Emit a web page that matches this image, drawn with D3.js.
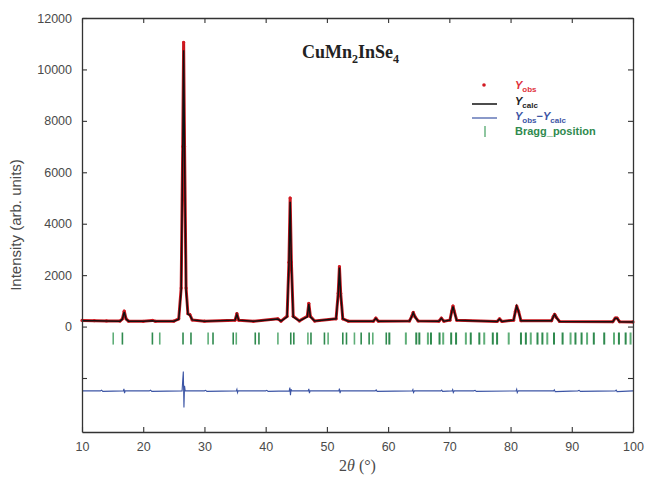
<!DOCTYPE html>
<html>
<head>
<meta charset="utf-8">
<script src="https://cdn.jsdelivr.net/npm/d3@7"></script>
<style>
  body { margin: 0; background: #fff; }
  svg { display: block; }
</style>
</head>
<body>
<div id="chart"></div>
<script>
var tth = [10.0, 12.0, 14.0, 16.2, 16.6, 16.9, 17.2, 17.6, 20.0, 21.5, 22.0, 25.0, 25.8, 26.2, 26.45, 26.6, 26.75, 27.0, 27.3, 27.6, 28.0,
  30.0, 35.0, 35.3, 35.6, 38.0, 42.0, 42.5, 43.5, 43.8, 44.0, 44.2, 44.5, 45.5, 46.8, 47.05, 47.3, 48.0,
  51.5, 51.85, 52.05, 52.25, 52.6, 53.5, 57.6, 58.0, 58.4, 63.5, 63.9, 64.1, 64.4, 64.9, 68.3, 68.7, 69.1,
  70.1, 70.4, 70.6, 70.8, 71.2, 77.8, 78.2, 78.6, 80.5, 80.8, 81.0, 81.3, 81.7, 86.7, 87.0, 87.2, 87.5, 88.0,
  96.7, 97.1, 97.4, 97.8, 100.0];
var yObs = [240, 230, 220, 215, 300, 600, 300, 210, 205, 240, 205, 210, 300, 1500, 7000, 11050, 7000, 1500, 500, 470, 260,
  210, 250, 500, 250, 205, 300, 210, 400, 2500, 5000, 2500, 400, 220, 400, 900, 400, 215,
  300, 1300, 2330, 1300, 300, 210, 210, 330, 210, 220, 420, 550, 380, 220, 210, 330, 210,
  250, 600, 800, 600, 250, 200, 300, 200, 250, 600, 800, 600, 230, 230, 400, 480, 350, 200,
  190, 330, 330, 190, 180];
var yCalc = [230, 225, 215, 210, 290, 570, 290, 210, 205, 230, 205, 210, 290, 1400, 6800, 10750, 6800, 1400, 480, 450, 260,
  210, 250, 470, 250, 205, 290, 210, 380, 2400, 4850, 2400, 380, 220, 380, 880, 380, 215,
  300, 1250, 2300, 1250, 300, 210, 210, 320, 210, 220, 410, 540, 370, 220, 210, 320, 210,
  250, 580, 780, 580, 250, 200, 290, 200, 250, 590, 790, 590, 230, 230, 390, 470, 340, 200,
  190, 320, 320, 190, 180];

// difference curve (offset baseline)
var diffTth = [10, 13, 13.2, 13.4, 16.75, 16.85, 16.95, 17.05, 21, 21.2, 21.4, 26.35, 26.45, 26.55, 26.65, 26.75, 26.85, 30, 30.2, 30.4,
  35.2, 35.3, 35.4, 35.5, 40, 40.2, 40.4, 43.85, 43.95, 44.05, 44.15, 44.25, 46.95, 47.05, 47.15, 47.25, 51.95, 52.05, 52.15, 52.25,
  57.9, 58.05, 58.2, 63.95, 64.05, 64.15, 64.3, 68.6, 68.75, 68.9, 70.45, 70.55, 70.65, 70.8, 74, 74.2, 74.4,
  80.9, 81.0, 81.1, 81.25, 87.05, 87.15, 87.3, 91, 91.2, 91.4, 97.1, 97.25, 97.4, 100];
var diffVal = [-2500, -2500, -2470, -2520, -2500, -2420, -2590, -2500, -2500, -2470, -2520, -2500, -2100, -1750, -3150, -2300, -2500, -2500, -2480, -2520,
  -2500, -2440, -2570, -2500, -2500, -2480, -2520, -2500, -2370, -2670, -2440, -2500, -2500, -2420, -2590, -2500, -2500, -2410, -2590, -2500,
  -2500, -2460, -2520, -2500, -2450, -2560, -2500, -2500, -2470, -2520, -2500, -2450, -2560, -2500, -2500, -2480, -2520,
  -2500, -2440, -2570, -2500, -2500, -2460, -2530, -2500, -2480, -2520, -2500, -2470, -2530, -2500];

// reflection positions
var braggPos = [15.1, 16.6, 21.5, 22.7, 26.5, 27.8, 30.6, 31.4, 34.7, 35.2, 38.3, 38.9, 42.0, 44.1, 44.6, 46.9, 47.4,
  49.6, 50.2, 52.6, 53.2, 54.5, 55.6, 56.9, 57.5, 59.7, 60.2, 62.9, 64.6, 65.1, 66.5, 67.0, 68.4, 69.0, 70.3, 71.1,
  72.7, 73.5, 74.9, 75.7, 77.1, 77.8, 79.7, 81.7, 82.5, 83.3, 84.4, 85.2, 86.0, 87.1, 88.5, 89.8, 90.6, 91.6, 92.5,
  93.6, 95.3, 96.9, 97.7, 98.8, 99.6];

var xTicks = [10, 20, 30, 40, 50, 60, 70, 80, 90, 100];
var yTicks = [-2000, 0, 2000, 4000, 6000, 8000, 10000, 12000];

var W = 649, H = 480;
var mL = 82, mR = 633, mT = 18, mB = 432;

var svg = d3.select("#chart").append("svg").attr("width", W).attr("height", H);

var x = d3.scaleLinear().domain([10, 100]).range([mL, mR]);
var y = d3.scaleLinear().domain([-4100, 12000]).range([mB, mT]);

var axisCol = "#333", labCol = "#4a4a4a";

// Bragg ticks
svg.append("g").selectAll("line").data(braggPos).enter().append("line")
  .attr("x1", d => x(d)).attr("x2", d => x(d))
  .attr("y1", y(-230)).attr("y2", y(-700))
  .attr("stroke", (d, i) => i % 3 == 0 ? "#5fae78" : "#2f8a4e")
  .attr("stroke-width", d => d > 60 ? 2 : 1.6);

// difference
var diffLine = d3.line().x((d, i) => x(diffTth[i])).y(d => y(d));
svg.append("path").datum(diffVal).attr("d", diffLine)
  .attr("fill", "none").attr("stroke", "#3c55a5").attr("stroke-width", 1.1);

// observed
var profLine = d3.line().x((d, i) => x(tth[i])).y(d => y(d));
svg.append("path").datum(yObs).attr("d", profLine)
  .attr("fill", "none").attr("stroke", "#c8161d").attr("stroke-width", 3)
  .attr("stroke-linejoin", "round");
svg.append("g").selectAll("circle").data(yObs).enter().append("circle")
  .attr("cx", (d, i) => x(tth[i])).attr("cy", d => y(d)).attr("r", 1.6)
  .attr("fill", "#d21a22");

// calculated
svg.append("path").datum(yCalc).attr("d", profLine)
  .attr("fill", "none").attr("stroke", "#111").attr("stroke-width", 1.5);

// axes (ticks inward on all four sides)
function styleAxis(g) {
  g.select(".domain").attr("stroke", axisCol).attr("stroke-width", 1.3);
  g.selectAll(".tick line").attr("stroke", axisCol).attr("stroke-width", 1.1);
  g.selectAll(".tick text").attr("fill", labCol).style("font-family", "Liberation Sans, Arial, sans-serif").style("font-size", "12.5px");
}
svg.append("g").attr("transform", "translate(0," + mB + ")")
  .call(d3.axisBottom(x).tickValues(xTicks).tickSize(-5).tickPadding(10).tickSizeOuter(0))
  .call(styleAxis);
svg.append("g").attr("transform", "translate(0," + mT + ")")
  .call(d3.axisTop(x).tickValues(xTicks).tickSize(-5).tickFormat("").tickSizeOuter(0))
  .call(styleAxis);
svg.append("g").attr("transform", "translate(" + mL + ",0)")
  .call(d3.axisLeft(y).tickValues(yTicks).tickSize(-5).tickPadding(10).tickSizeOuter(0)
    .tickFormat(d => d < 0 ? "" : d))
  .call(styleAxis);
svg.append("g").attr("transform", "translate(" + mR + ",0)")
  .call(d3.axisRight(y).tickValues(yTicks).tickSize(-5).tickFormat("").tickSizeOuter(0))
  .call(styleAxis);

// axis titles
svg.append("text").attr("transform", "translate(21," + (mT + mB) / 2 + ") rotate(-90)")
  .attr("text-anchor", "middle").attr("fill", labCol)
  .style("font-family", "Liberation Sans, Arial, sans-serif").style("font-size", "15px")
  .text("Intensity (arb. units)");
var xt = svg.append("text").attr("x", (mL + mR) / 2).attr("y", 471).attr("text-anchor", "middle")
  .attr("fill", labCol).style("font-family", "Liberation Serif, Times New Roman, serif").style("font-size", "16px");
xt.append("tspan").text("2");
xt.append("tspan").style("font-style", "italic").text("θ");
xt.append("tspan").text(" (°)");

// compound label
var title = svg.append("text").attr("x", 302).attr("y", 58).attr("fill", "#222")
  .style("font-family", "Liberation Serif, Times New Roman, serif").style("font-size", "18px").style("font-weight", "bold");
title.append("tspan").text("CuMn");
title.append("tspan").attr("dy", 5).style("font-size", "12px").text("2");
title.append("tspan").attr("dy", -5).text("InSe");
title.append("tspan").attr("dy", 5).style("font-size", "12px").text("4");

// legend
var lg = svg.append("g").style("font-family", "Liberation Sans, Arial, sans-serif").style("font-size", "11px").style("font-weight", "bold");
function yLabel(t, parts, col) {
  parts.forEach(function (p) {
    if (p[1] == "Y") t.append("tspan").attr("dy", p[2]).style("font-style", "italic").text(p[0]);
    else if (p[1] == "sub") t.append("tspan").attr("dy", p[2]).style("font-size", "8px").text(p[0]);
    else t.append("tspan").attr("dy", p[2]).text(p[0]);
  });
  t.attr("fill", col);
}
lg.append("circle").attr("cx", 484).attr("cy", 85).attr("r", 1.8).attr("fill", "#d21a22");
yLabel(lg.append("text").attr("x", 515).attr("y", 89), [["Y", "Y", 0], ["obs", "sub", 3]], "#e0303a");
lg.append("line").attr("x1", 472).attr("x2", 497).attr("y1", 104).attr("y2", 104).attr("stroke", "#111").attr("stroke-width", 1.5);
yLabel(lg.append("text").attr("x", 515).attr("y", 105), [["Y", "Y", 0], ["calc", "sub", 3]], "#222");
lg.append("line").attr("x1", 472).attr("x2", 497).attr("y1", 118).attr("y2", 118).attr("stroke", "#3c55a5").attr("stroke-width", 1.2);
yLabel(lg.append("text").attr("x", 515).attr("y", 120), [["Y", "Y", 0], ["obs", "sub", 3], ["−", "n", -3], ["Y", "Y", 0], ["calc", "sub", 3]], "#3c55a5");
lg.append("line").attr("x1", 485).attr("x2", 485).attr("y1", 126).attr("y2", 137).attr("stroke", "#5fae78").attr("stroke-width", 1.4);
lg.append("text").attr("x", 515).attr("y", 135).attr("fill", "#2f8a4e").text("Bragg_position");
</script>
</body>
</html>
